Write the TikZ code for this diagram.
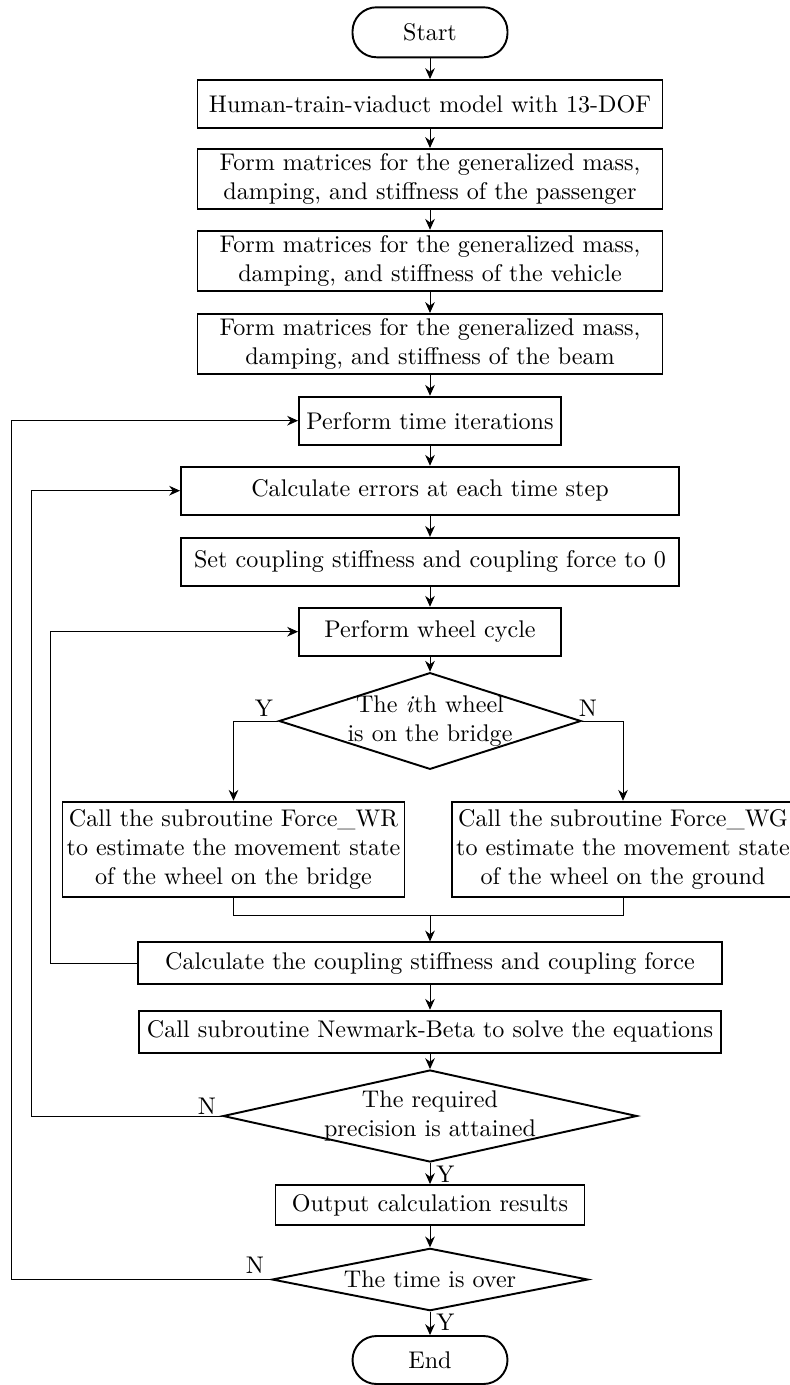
\documentclass[tikz,border=0pt]{standalone}
\usepackage{amsmath}
\usepackage{tikz}
\usetikzlibrary{positioning,shapes.geometric,arrows.meta}

\newcommand{\pxu}{0.4148pt}

\begin{document}
\begin{tikzpicture}[x=\pxu, y=-\pxu]

\tikzstyle{every node}=[font=\normalsize]
\tikzstyle{term}=[draw, line width=0.8pt, rounded corners=10pt, minimum width=155*\pxu, minimum height=50*\pxu]
\tikzstyle{proc}=[draw, line width=0.8pt, align=center, inner xsep=3pt, inner ysep=2pt]
\tikzstyle{cond}=[draw, diamond, line width=0.8pt, align=center, inner sep=-6pt, shape aspect=4]
\tikzstyle{flow}=[-{Stealth[length=4.5pt,width=4pt]}, line width=0.4pt]

\useasboundingbox (0,0) rectangle (789,1385);

% nodes %
\node[term] (start) at (430,32.3) {Start};
\node[proc, minimum width=465*\pxu, minimum height=48*\pxu] (model) at (430,104) {Human-train-viaduct model with 13-DOF};
\node[proc, minimum width=465*\pxu, minimum height=60*\pxu] (pass) at (430,179.2) {Form matrices for the generalized mass,\\damping, and stiffness of the passenger};
\node[proc, minimum width=465*\pxu, minimum height=60*\pxu] (veh) at (430,261) {Form matrices for the generalized mass,\\damping, and stiffness of the vehicle};
\node[proc, minimum width=465*\pxu, minimum height=60*\pxu] (beam) at (430,344.2) {Form matrices for the generalized mass,\\damping, and stiffness of the beam};
\node[proc, minimum width=262*\pxu, minimum height=48*\pxu] (time) at (430,420.7) {Perform time iterations};
\node[proc, minimum width=498*\pxu, minimum height=48*\pxu] (err) at (430,490.7) {Calculate errors at each time step};
\node[proc, minimum width=498*\pxu, minimum height=48*\pxu] (zero) at (430,561.8) {Set coupling stiffness and coupling force to 0};
\node[proc, minimum width=262*\pxu, minimum height=48*\pxu] (wheel) at (430,631.7) {Perform wheel cycle};
\node[cond, minimum width=302*\pxu, minimum height=96.7*\pxu] (onbridge) at (430,721) {The \textit{i}th wheel\\is on the bridge};
\node[proc, inner xsep=1pt, minimum width=342*\pxu, minimum height=95*\pxu] (wr) at (233.5,849.2) {Call the subroutine Force\_WR\\to estimate the movement state\\of the wheel on the bridge};
\node[proc, inner xsep=1pt, minimum width=342*\pxu, minimum height=95*\pxu] (wg) at (623,849.2) {Call the subroutine Force\_WG\\to estimate the movement state\\of the wheel on the ground};
\coordinate (merge) at (430,915.7);
\node[proc, minimum width=584.5*\pxu, minimum height=42*\pxu] (couple) at (430,963.4) {Calculate the coupling stiffness and coupling force};
\node[proc, minimum width=582*\pxu, minimum height=42*\pxu] (newmark) at (430,1031.7) {Call subroutine Newmark-Beta to solve the equations};
\node[cond, minimum width=414*\pxu, minimum height=92*\pxu] (prec) at (430,1116) {The required\\precision is attained};
\node[proc, minimum width=309*\pxu, minimum height=40*\pxu] (output) at (430,1205) {Output calculation results};
\node[cond, minimum width=316*\pxu, minimum height=62.4*\pxu] (over) at (430,1279.5) {The time is over};
\node[term, minimum height=48*\pxu] (end) at (430,1360) {End};

% loop corners %
\coordinate (wloop) at (50.6,963.4);
\coordinate (eloop) at (31.4,1116);
\coordinate (tloop) at (11,1279.5);

% branch labels %
\node (y1) at (264,708) {Y};
\node (n1) at (588,708) {N};
\node (n2) at (207,1106) {N};
\node (y2) at (445.5,1174) {Y};
\node (n3) at (255,1265) {N};
\node (y3) at (445.5,1322.5) {Y};

% edges %
\draw[flow] (start) -- (model);
\draw[flow] (model) -- (pass);
\draw[flow] (pass) -- (veh);
\draw[flow] (veh) -- (beam);
\draw[flow] (beam) -- (time);
\draw[flow] (time) -- (err);
\draw[flow] (err) -- (zero);
\draw[flow] (zero) -- (wheel);
\draw[flow] (wheel) -- (onbridge);
\draw[flow] (onbridge.west) -| (wr.north);
\draw[flow] (onbridge.east) -| (wg.north);
\draw[line width=0.4pt] (wr.south) |- (merge) -| (wg.south);
\draw[flow] (merge) -- (couple);
\draw[flow] (couple.west) -- (wloop) |- (wheel.west);
\draw[flow] (couple) -- (newmark);
\draw[flow] (newmark) -- (prec);
\draw[flow] (prec.west) -- (eloop) |- (err.west);
\draw[flow] (prec) -- (output);
\draw[flow] (output) -- (over);
\draw[flow] (over.west) -- (tloop) |- (time.west);
\draw[flow] (over) -- (end);

\end{tikzpicture}
\end{document}
